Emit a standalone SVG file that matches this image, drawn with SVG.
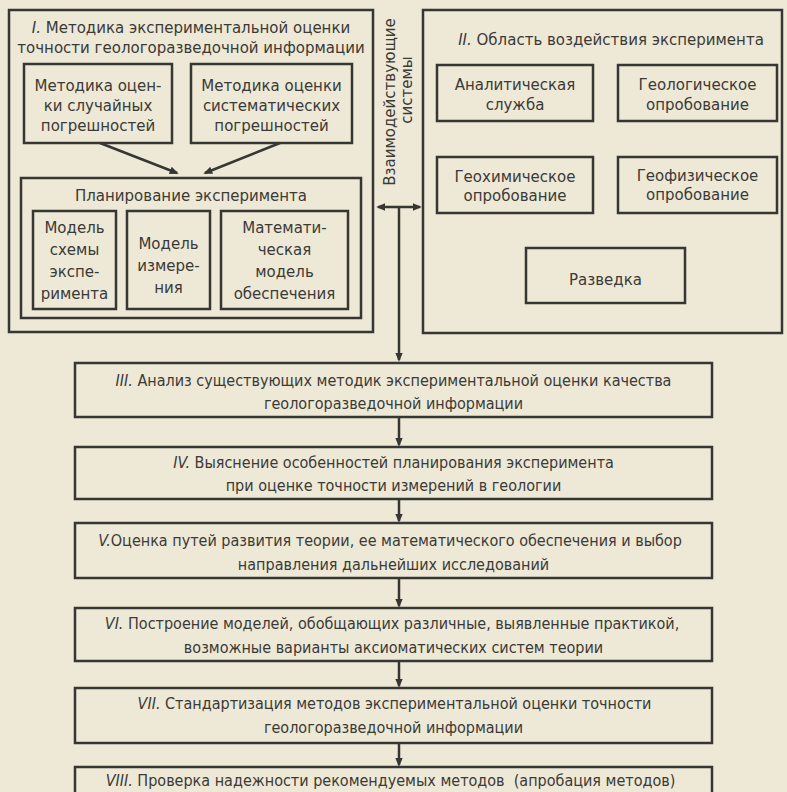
<svg xmlns="http://www.w3.org/2000/svg" width="787" height="792" viewBox="0 0 787 792">
<defs>
<style>
.bx{fill:none;stroke:#363633;stroke-width:2.5}
.t{font-family:"DejaVu Sans","Liberation Sans",sans-serif;font-size:15px;fill:#3a3a37;text-anchor:middle}
.b{font-family:"Liberation Sans Narrow","DejaVu Sans Condensed","Liberation Sans",sans-serif;font-size:16px;fill:#3a3a37;text-anchor:middle}
.i{font-style:italic}
.cn{fill:none;stroke:#363633;stroke-width:2.5}
</style>
<marker id="ah" viewBox="0 0 10 10" refX="8" refY="5" markerWidth="9" markerHeight="9" markerUnits="userSpaceOnUse" orient="auto-start-reverse">
<path d="M0,0.8 L10,5 L0,9.2 z" fill="#363633"/>
</marker>
</defs>
<rect width="787" height="792" fill="#eee8d6"/>

<g id="block-I">
<rect class="bx" x="9" y="10" width="364" height="322"/>
<text class="t" x="191" y="33"><tspan class="i">I.</tspan> Методика экспериментальной оценки</text>
<text class="t" x="191" y="53">точности геологоразведочной информации</text>
</g>
<g id="random-errors">
<rect class="bx" x="24" y="64" width="148" height="79"/>
<text class="t" x="98" y="91">Методика оцен-</text>
<text class="t" x="98" y="111">ки случайных</text>
<text class="t" x="98" y="131">погрешностей</text>
</g>
<g id="systematic-errors">
<rect class="bx" x="191" y="64" width="161" height="79"/>
<text class="t" x="271.5" y="91">Методика оценки</text>
<text class="t" x="271.5" y="111">систематических</text>
<text class="t" x="271.5" y="131">погрешностей</text>
</g>
<g id="planning">
<rect class="bx" x="21" y="178" width="340" height="140"/>
<text class="t" x="191" y="201">Планирование эксперимента</text>
</g>
<g id="model-scheme">
<rect class="bx" x="33" y="211" width="83" height="98"/>
<text class="t" x="74.5" y="233">Модель</text>
<text class="t" x="74.5" y="255">схемы</text>
<text class="t" x="74.5" y="277">экспе-</text>
<text class="t" x="74.5" y="299">римента</text>
</g>
<g id="model-measure">
<rect class="bx" x="127" y="211" width="83" height="98"/>
<text class="t" x="168.5" y="249">Модель</text>
<text class="t" x="168.5" y="271">измере-</text>
<text class="t" x="168.5" y="293">ния</text>
</g>
<g id="math-model">
<rect class="bx" x="221" y="211" width="127" height="98"/>
<text class="t" x="284.5" y="233">Математи-</text>
<text class="t" x="284.5" y="255">ческая</text>
<text class="t" x="284.5" y="277">модель</text>
<text class="t" x="284.5" y="299">обеспечения</text>
</g>

<g id="interacting-label">
<text class="t" transform="translate(395,102) rotate(-90)">Взаимодействующие</text>
<text class="t" transform="translate(412,90) rotate(-90)">системы</text>
</g>

<g id="block-II">
<rect class="bx" x="423" y="10" width="359" height="323"/>
<text class="t" x="611" y="45"><tspan class="i">II.</tspan> Область воздействия эксперимента</text>
</g>
<g id="analytic">
<rect class="bx" x="437" y="65" width="156" height="56"/>
<text class="t" x="515" y="90">Аналитическая</text>
<text class="t" x="515" y="110">служба</text>
</g>
<g id="geological">
<rect class="bx" x="618" y="65" width="159" height="56"/>
<text class="t" x="697.5" y="90">Геологическое</text>
<text class="t" x="697.5" y="110">опробование</text>
</g>
<g id="geochemical">
<rect class="bx" x="437" y="157" width="156" height="56"/>
<text class="t" x="515" y="182">Геохимическое</text>
<text class="t" x="515" y="201">опробование</text>
</g>
<g id="geophysical">
<rect class="bx" x="618" y="157" width="159" height="56"/>
<text class="t" x="697.5" y="181">Геофизическое</text>
<text class="t" x="697.5" y="200">опробование</text>
</g>
<g id="exploration">
<rect class="bx" x="526" y="248" width="159" height="55"/>
<text class="t" x="605.5" y="285">Разведка</text>
</g>

<g id="step-III">
<rect class="bx" x="75" y="363" width="637" height="54"/>
<text class="b" x="393.5" y="386"><tspan class="i">III.</tspan> Анализ существующих методик экспериментальной оценки качества</text>
<text class="b" x="393.5" y="409">геологоразведочной информации</text>
</g>
<g id="step-IV">
<rect class="bx" x="75" y="447" width="637" height="52"/>
<text class="b" x="393.5" y="468"><tspan class="i">IV.</tspan> Выяснение особенностей планирования эксперимента</text>
<text class="b" x="393.5" y="491">при оценке точности измерений в геологии</text>
</g>
<g id="step-V">
<rect class="bx" x="75" y="523" width="637" height="55"/>
<text class="b" x="390" y="546"><tspan class="i">V.</tspan>Оценка путей развития теории, ее математического обеспечения и выбор</text>
<text class="b" x="393.5" y="570">направления дальнейших исследований</text>
</g>
<g id="step-VI">
<rect class="bx" x="75" y="608" width="637" height="53"/>
<text class="b" x="392" y="629"><tspan class="i">VI.</tspan> Построение моделей, обобщающих различные, выявленные практикой,</text>
<text class="b" x="393.5" y="653">возможные варианты аксиоматических систем теории</text>
</g>
<g id="step-VII">
<rect class="bx" x="75" y="688" width="637" height="55"/>
<text class="b" x="394.5" y="709"><tspan class="i">VII.</tspan> Стандартизация методов экспериментальной оценки точности</text>
<text class="b" x="393.5" y="733">геологоразведочной информации</text>
</g>
<g id="step-VIII">
<rect class="bx" x="75" y="767" width="637" height="40"/>
<text class="b" x="390.5" y="786"><tspan class="i">VIII.</tspan> Проверка надежности рекомендуемых методов&#160; (апробация методов)</text>
</g>

<g id="connectors">
<line class="cn" x1="100" y1="143" x2="177" y2="173" stroke-width="3" marker-end="url(#ah)"/>
<line class="cn" x1="280" y1="143" x2="205" y2="173" stroke-width="3" marker-end="url(#ah)"/>
<line class="cn" x1="378" y1="207" x2="420" y2="207" marker-start="url(#ah)" marker-end="url(#ah)"/>
<line class="cn" x1="399" y1="207" x2="399" y2="360" marker-end="url(#ah)"/>
<line class="cn" x1="399" y1="417" x2="399" y2="445" marker-end="url(#ah)"/>
<line class="cn" x1="399" y1="499" x2="399" y2="521" marker-end="url(#ah)"/>
<line class="cn" x1="399" y1="578" x2="399" y2="606" marker-end="url(#ah)"/>
<line class="cn" x1="399" y1="661" x2="399" y2="686" marker-end="url(#ah)"/>
<line class="cn" x1="399" y1="743" x2="399" y2="765" marker-end="url(#ah)"/>
</g>
</svg>
